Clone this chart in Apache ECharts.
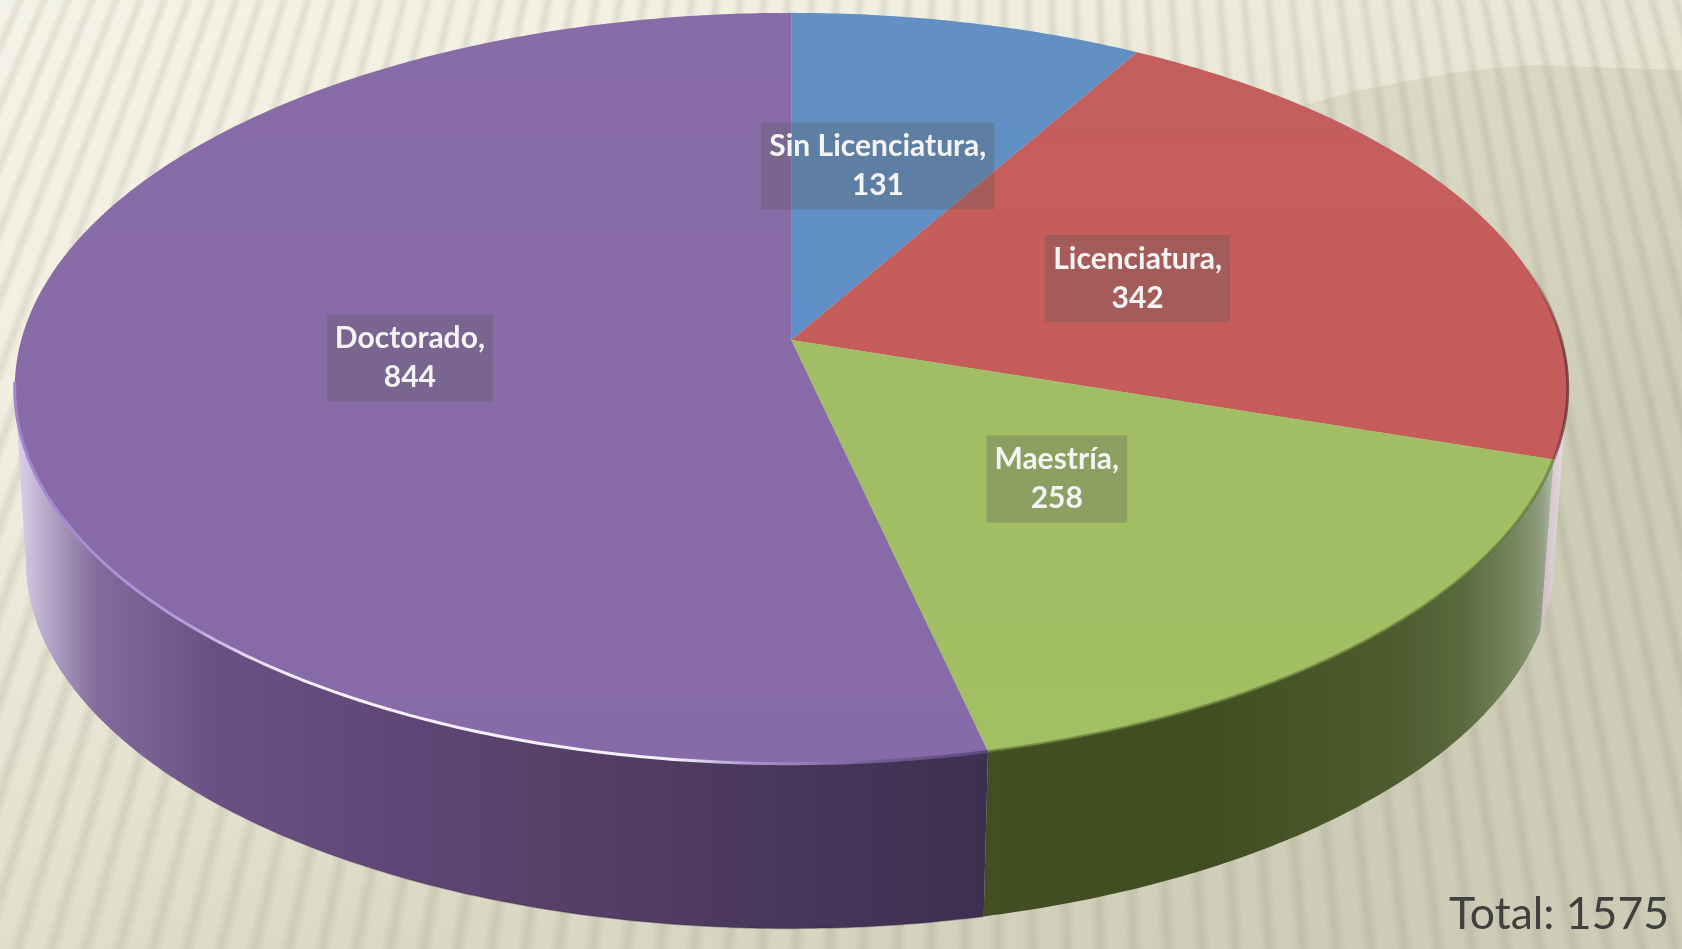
<!DOCTYPE html>
<html>
<head>
<meta charset="utf-8">
<title>Total por grado</title>
<style>
  html, body { margin: 0; padding: 0; background: #ecebdc; }
  #chart { width: 1682px; height: 949px; }
</style>
<script src="https://cdn.jsdelivr.net/npm/echarts@6/dist/echarts.min.js"></script>
</head>
<body>
<div id="chart"></div>
<script>
const categories = ['Sin Licenciatura', 'Licenciatura', 'Maestría', 'Doctorado'];
const values = [131, 342, 258, 844];
const topColors = ['#5e8dc3', '#c35b58', '#9fbc62', '#8568a5'];

const total = values.reduce((a, b) => a + b, 0);
const FONT = 'Lato, Carlito, "Noto Sans", sans-serif';

// the disc is a circle seen in perspective, k is the foreshortening
const k = 0.1286;
const topDisc = { cx: 791.2, cy: 340, a: 770, b: 369.2 };
const bottomDisc = { cx: 790, cy: 513, a: 758, b: 362 };
// angles where the side of the cylinder meets the outline
const rightEdge = Math.acos(-k);
const leftEdge = Math.PI * 2 - rightEdge;
// small shift of each label from half radius
const labelNudge = [[-7, -6], [-5, 3], [-7, -4], [4, -3]];

function project(disc, angle, r) {
  const x = r * Math.sin(angle);
  const y = r * Math.cos(angle);
  const d = 1 + k * y;
  return [disc.cx + disc.a * x / d, disc.cy - disc.b * y / d];
}

function arc(disc, from, to) {
  const pts = [];
  const n = Math.max(2, Math.ceil((to - from) / 0.01));
  for (let i = 0; i <= n; i++) {
    pts.push(project(disc, from + (to - from) * i / n, 1));
  }
  return pts;
}

function sliceAngles(index) {
  let before = 0;
  for (let i = 0; i < index; i++) before += values[i];
  return [before / total * Math.PI * 2, (before + values[index]) / total * Math.PI * 2];
}

function xGradient(x0, x1, stops) {
  return new echarts.graphic.LinearGradient(x0, 0, x1, 0, stops, true);
}

const wallFills = [
  '#c9b9bf',
  xGradient(1530, 1566, [
    { offset: 0, color: '#c4b2b8' },
    { offset: 1, color: '#e6dbe0' }
  ]),
  xGradient(985, 1552, [
    { offset: 0, color: '#434f22' },
    { offset: 0.4, color: '#414e22' },
    { offset: 0.72, color: '#4d5b2f' },
    { offset: 0.84, color: '#5a6a3d' },
    { offset: 0.93, color: '#75845b' },
    { offset: 0.98, color: '#8f9c7f' },
    { offset: 1, color: '#aab6a2' }
  ]),
  xGradient(20, 985, [
    { offset: 0, color: '#d8cde8' },
    { offset: 0.02, color: '#bfb1d2' },
    { offset: 0.05, color: '#9f8db4' },
    { offset: 0.08, color: '#836b9b' },
    { offset: 0.2, color: '#6a5185' },
    { offset: 0.42, color: '#5f4575' },
    { offset: 0.55, color: '#574068' },
    { offset: 1, color: '#3e2f50' }
  ])
];

// dark line along the foot of the wall, fades out on the light left side
const footLine = xGradient(100, 500, [
  { offset: 0, color: 'rgba(45,30,60,0)' },
  { offset: 1, color: 'rgba(45,30,60,0.35)' }
]);

// part of the rim of each slice that carries an edge line, as share of the slice
const rims = [
  null,
  { from: 0.55, to: 1, width: 3, color: xGradient(1525, 1566, [
    { offset: 0, color: 'rgba(110,55,60,0)' },
    { offset: 1, color: 'rgba(110,55,60,0.85)' }
  ]) },
  { from: 0, to: 1, width: 3, color: 'rgba(90,112,50,0.6)' },
  { from: 0, to: 0.5, width: 3, color: xGradient(14, 985, [
    { offset: 0, color: '#a084d0' },
    { offset: 0.18, color: '#b29bdb' },
    { offset: 0.24, color: '#e2d8f3' },
    { offset: 0.3, color: '#f6f1fc' },
    { offset: 0.68, color: '#f4effa' },
    { offset: 0.76, color: '#a893cc' },
    { offset: 0.9, color: '#6f5a90' },
    { offset: 1, color: '#5e4a7e' }
  ]) }
];

function renderWall(params, api) {
  const [start, end] = sliceAngles(params.dataIndex);
  // only the part of the side that faces the viewer
  const from = Math.max(start, rightEdge);
  const to = Math.min(end, leftEdge);
  if (to <= from) return { type: 'group', children: [] };
  const bottom = arc(bottomDisc, from, to);
  const children = [{
    type: 'polygon',
    shape: { points: arc(topDisc, from, to).concat(bottom.slice().reverse()) },
    style: { fill: wallFills[params.dataIndex] }
  }];
  if (params.dataIndex === 3) {
    children.push({
      type: 'polyline',
      shape: { points: bottom },
      style: { fill: 'none', stroke: footLine, lineWidth: 1.5 }
    });
  }
  return { type: 'group', children: children };
}

function renderTop(params, api) {
  const i = params.dataIndex;
  const [from, to] = sliceAngles(i);
  const children = [{
    type: 'polygon',
    shape: { points: [project(topDisc, 0, 0)].concat(arc(topDisc, from, to)) },
    style: {
      fill: new echarts.graphic.LinearGradient(0, 0, 0, 1, [
        { offset: 0, color: echarts.color.lift(topColors[i], 0.03) },
        { offset: 1, color: echarts.color.lift(topColors[i], -0.02) }
      ])
    }
  }];
  const rim = rims[i];
  if (rim) {
    children.push({
      type: 'polyline',
      shape: { points: arc(topDisc, from + (to - from) * rim.from, from + (to - from) * rim.to) },
      style: { fill: 'none', stroke: rim.color, lineWidth: rim.width }
    });
  }
  return { type: 'group', children: children };
}

function renderLabel(params, api) {
  const [from, to] = sliceAngles(params.dataIndex);
  // labels sit half way along the radius of the slice
  const pos = project(topDisc, (from + to) / 2, 0.5);
  const nudge = labelNudge[params.dataIndex];
  return {
    type: 'text',
    style: {
      x: pos[0] + nudge[0],
      y: pos[1] + nudge[1],
      text: categories[params.dataIndex] + ',\n' + api.value(0),
      align: 'center',
      verticalAlign: 'middle',
      font: 'bold 30px ' + FONT,
      lineHeight: 39,
      fill: '#f4f4f4',
      backgroundColor: 'rgba(90,90,90,0.3)',
      padding: [7, 8, 2, 8]
    }
  };
}

// background: fan of soft stripes over a cream gradient
function stripes() {
  const vx = 1017, vy = -2317;
  const out = [];
  const yBottom = 949;
  for (let x = -700; x < 2300; x += 24) {
    const t = (yBottom - vy) / (0 - vy);
    const xb = vx + (x - vx) * t;
    [[12, 0.035], [8, 0.045], [4, 0.05]].forEach(([w, alpha]) => {
      out.push({
        type: 'polygon',
        silent: true,
        z: -10,
        shape: { points: [[x - w / 2, 0], [x + w / 2, 0], [xb + w * t / 2, yBottom], [xb - w * t / 2, yBottom]] },
        style: { fill: 'rgba(120,120,90,' + alpha + ')' }
      });
    });
  }
  return out;
}

const chart = echarts.init(document.getElementById('chart'));
const seriesData = values.map((v, i) => ({ name: categories[i], value: v }));

chart.setOption({
  animation: false,
  title: {
    text: 'Total: ' + total,
    right: 13,
    bottom: 12,
    padding: 0,
    textStyle: { color: '#404040', fontSize: 44.5, fontWeight: 'normal', fontFamily: FONT }
  },
  graphic: [
    {
      type: 'rect',
      silent: true,
      z: -20,
      shape: { x: 0, y: 0, width: 1682, height: 949 },
      style: {
        fill: new echarts.graphic.LinearGradient(0, 0, 0.25, 1, [
          { offset: 0, color: '#f4f3e7' },
          { offset: 0.35, color: '#f0efe1' },
          { offset: 0.75, color: '#e4e3d0' },
          { offset: 1, color: '#d9d8c3' }
        ])
      }
    }
  ].concat(stripes()).concat([
    {
      type: 'polygon',
      silent: true,
      z: -5,
      shape: { points: [[1330, 98], [1360, 90], [1457, 72], [1527, 65], [1682, 70], [1682, 949], [600, 949], [600, 300]] },
      style: {
        fill: xGradient(600, 1330, [
          { offset: 0, color: 'rgba(125,120,90,0)' },
          { offset: 1, color: 'rgba(125,120,90,0.12)' }
        ])
      }
    }
  ]),
  series: [
    { type: 'custom', coordinateSystem: 'none', silent: true, z: 2, renderItem: renderWall, data: seriesData },
    { type: 'custom', coordinateSystem: 'none', silent: true, z: 3, renderItem: renderTop, data: seriesData },
    { type: 'custom', coordinateSystem: 'none', silent: true, z: 4, renderItem: renderLabel, data: seriesData }
  ]
});
</script>
</body>
</html>
